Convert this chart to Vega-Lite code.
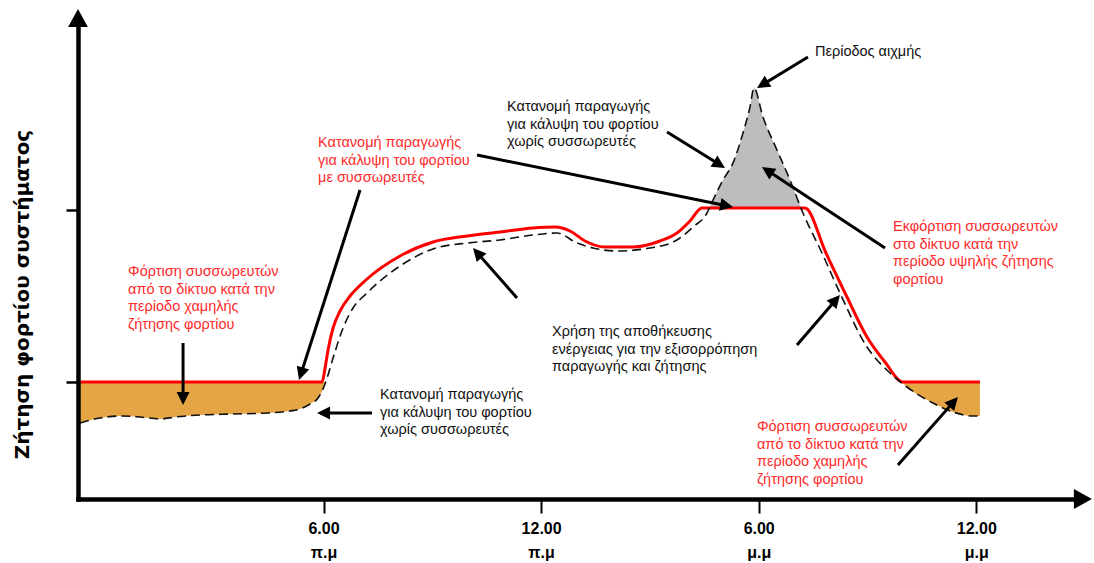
{
  "$schema": "https://vega.github.io/schema/vega-lite/v6.json",
  "width": 1002,
  "height": 479,
  "autosize": {"type": "none"},
  "padding": {"left": 78, "top": 20, "right": 14, "bottom": 64},
  "background": "white",
  "config": {"view": {"stroke": null}, "axis": {"grid": false}},
  "datasets": {
    "withStorage": [
      {"h": -0.713, "v": 117}, {"h": 5.960, "v": 117}, {"h": 6.043, "v": 131}, {"h": 6.125, "v": 149},
      {"h": 6.263, "v": 171}, {"h": 6.456, "v": 188}, {"h": 6.732, "v": 203}, {"h": 7.200, "v": 220},
      {"h": 8.110, "v": 243}, {"h": 9.020, "v": 257}, {"h": 9.958, "v": 263}, {"h": 10.867, "v": 267},
      {"h": 11.777, "v": 271}, {"h": 12.384, "v": 272}, {"h": 12.797, "v": 268}, {"h": 13.211, "v": 258},
      {"h": 13.762, "v": 252}, {"h": 14.534, "v": 252}, {"h": 15.279, "v": 258}, {"h": 15.747, "v": 266},
      {"h": 16.106, "v": 278}, {"h": 16.436, "v": 291}, {"h": 19.276, "v": 291}, {"h": 19.855, "v": 246},
      {"h": 20.434, "v": 202}, {"h": 20.986, "v": 162}, {"h": 21.482, "v": 137}, {"h": 21.978, "v": 117},
      {"h": 24.101, "v": 117}
    ],
    "withoutStorage": [
      {"h": -0.713, "v": 76}, {"h": -0.161, "v": 81}, {"h": 0.390, "v": 83}, {"h": 0.942, "v": 82},
      {"h": 1.493, "v": 80}, {"h": 1.906, "v": 82}, {"h": 2.596, "v": 84}, {"h": 3.506, "v": 85},
      {"h": 4.443, "v": 86}, {"h": 5.077, "v": 88}, {"h": 5.353, "v": 90}, {"h": 5.629, "v": 95},
      {"h": 5.850, "v": 101}, {"h": 5.987, "v": 110}, {"h": 6.098, "v": 121}, {"h": 6.263, "v": 141},
      {"h": 6.539, "v": 171}, {"h": 6.814, "v": 191}, {"h": 7.200, "v": 206}, {"h": 8.110, "v": 233},
      {"h": 9.020, "v": 250}, {"h": 9.958, "v": 256}, {"h": 10.867, "v": 259}, {"h": 11.777, "v": 264},
      {"h": 12.439, "v": 266}, {"h": 12.990, "v": 256}, {"h": 13.431, "v": 251}, {"h": 14.093, "v": 248},
      {"h": 15.003, "v": 251}, {"h": 15.747, "v": 259}, {"h": 16.188, "v": 272}, {"h": 16.574, "v": 286},
      {"h": 16.740, "v": 299}, {"h": 17.016, "v": 319}, {"h": 17.291, "v": 336}, {"h": 17.567, "v": 366},
      {"h": 17.760, "v": 392}, {"h": 17.870, "v": 411}, {"h": 18.118, "v": 382}, {"h": 18.504, "v": 349},
      {"h": 18.863, "v": 319}, {"h": 19.221, "v": 286}, {"h": 19.745, "v": 246}, {"h": 20.241, "v": 206},
      {"h": 20.986, "v": 152}, {"h": 21.620, "v": 126}, {"h": 22.088, "v": 112}, {"h": 22.805, "v": 96},
      {"h": 23.357, "v": 87}, {"h": 23.908, "v": 83}, {"h": 24.101, "v": 83}
    ],
    "charging": [
      {"period": "night", "h": -0.713, "v": 76, "base": 117}, {"period": "night", "h": -0.161, "v": 81, "base": 117},
      {"period": "night", "h": 0.390, "v": 83, "base": 117}, {"period": "night", "h": 0.942, "v": 82, "base": 117},
      {"period": "night", "h": 1.493, "v": 80, "base": 117}, {"period": "night", "h": 1.906, "v": 82, "base": 117},
      {"period": "night", "h": 2.596, "v": 84, "base": 117}, {"period": "night", "h": 3.506, "v": 85, "base": 117},
      {"period": "night", "h": 4.443, "v": 86, "base": 117}, {"period": "night", "h": 5.077, "v": 88, "base": 117},
      {"period": "night", "h": 5.353, "v": 90, "base": 117}, {"period": "night", "h": 5.629, "v": 95, "base": 117},
      {"period": "night", "h": 5.850, "v": 101, "base": 117}, {"period": "night", "h": 5.987, "v": 110, "base": 117},
      {"period": "night", "h": 6.060, "v": 117, "base": 117},
      {"period": "late", "h": 21.940, "v": 117, "base": 117}, {"period": "late", "h": 22.088, "v": 112, "base": 117},
      {"period": "late", "h": 22.805, "v": 96, "base": 117}, {"period": "late", "h": 23.357, "v": 87, "base": 117},
      {"period": "late", "h": 23.908, "v": 83, "base": 117}, {"period": "late", "h": 24.101, "v": 83, "base": 117}
    ],
    "peakShaving": [
      {"h": 16.640, "v": 291, "base": 291}, {"h": 16.740, "v": 299, "base": 291}, {"h": 17.016, "v": 319, "base": 291},
      {"h": 17.291, "v": 336, "base": 291}, {"h": 17.567, "v": 366, "base": 291}, {"h": 17.760, "v": 392, "base": 291},
      {"h": 17.870, "v": 411, "base": 291}, {"h": 18.118, "v": 382, "base": 291}, {"h": 18.504, "v": 349, "base": 291},
      {"h": 18.863, "v": 319, "base": 291}, {"h": 19.170, "v": 291, "base": 291}
    ],
    "arrows": [
      {"h": 19.359, "v": 442, "h2": 17.953, "v2": 411},
      {"h": 15.472, "v": 367, "h2": 17.071, "v2": 331},
      {"h": 10.233, "v": 344, "h2": 17.291, "v2": 292},
      {"h": 7.007, "v": 309, "h2": 5.325, "v2": 119},
      {"h": 2.127, "v": 156, "h2": 2.127, "v2": 94},
      {"h": 7.338, "v": 86, "h2": 5.822, "v2": 86},
      {"h": 11.336, "v": 201, "h2": 10.123, "v2": 251},
      {"h": 19.056, "v": 154, "h2": 20.241, "v2": 204},
      {"h": 21.483, "v": 251, "h2": 18.091, "v2": 332},
      {"h": 21.840, "v": 34, "h2": 23.494, "v2": 102}
    ],
    "blackNotes": [
      {"h": 19.552, "v": 447, "label": "Περίοδος αιχμής"},
      {"h": 11.060, "v": 392, "label": "Κατανομή παραγωγής\nγια κάλυψη του φορτίου\nχωρίς συσσωρευτές"},
      {"h": 7.559, "v": 104, "label": "Κατανομή παραγωγής\nγια κάλυψη του φορτίου\nχωρίς συσσωρευτές"},
      {"h": 12.301, "v": 167, "label": "Χρήση της αποθήκευσης\nενέργειας για την εξισορρόπηση\nπαραγωγής και ζήτησης"}
    ],
    "redNotes": [
      {"h": 5.849, "v": 356, "label": "Κατανομή παραγωγής\nγια κάλυψη του φορτίου\nμε συσσωρευτές"},
      {"h": 0.611, "v": 227, "label": "Φόρτιση συσσωρευτών\nαπό το δίκτυο κατά την\nπερίοδο χαμηλής\nζήτησης φορτίου"},
      {"h": 21.703, "v": 272, "label": "Εκφόρτιση συσσωρευτών\nστο δίκτυο κατά την\nπερίοδο υψηλής ζήτησης\nφορτίου"},
      {"h": 17.953, "v": 72, "label": "Φόρτιση συσσωρευτών\nαπό το δίκτυο κατά την\nπερίοδο χαμηλής\nζήτησης φορτίου"}
    ],
    "axisEnds": [
      {"axis": "y", "h": -0.77, "v": 481},
      {"axis": "x", "h": 26.94, "v": 0}
    ]
  },
  "encoding": {
    "x": {
      "field": "h", "type": "quantitative",
      "scale": {"domain": [-0.77, 26.86], "nice": false, "zero": false},
      "axis": {
        "values": [6, 12, 18, 24], "title": null, "grid": false,
        "domain": true, "domainColor": "#000", "domainWidth": 4.5, "domainCap": "square",
        "ticks": true, "tickColor": "#000", "tickWidth": 2, "tickSize": 14,
        "labelExpr": "datum.value == 6 ? ['6.00', 'π.μ'] : datum.value == 12 ? ['12.00', 'π.μ'] : datum.value == 18 ? ['6.00', 'μ.μ'] : ['12.00', 'μ.μ']",
        "labelFont": "Liberation Sans", "labelFontSize": 16, "labelFontWeight": "bold", "labelColor": "#000",
        "labelLineHeight": 24, "labelPadding": 7, "labelBaseline": "top", "labelFlush": false, "labelOverlap": false,
        "zindex": 1
      }
    },
    "y": {
      "field": "v", "type": "quantitative",
      "scale": {"domain": [0, 479], "nice": false, "zero": false},
      "axis": {
        "values": [117, 289], "labels": false, "grid": false,
        "title": "Ζήτηση φορτίου συστήματος", "titleFont": "DejaVu Sans", "titleFontSize": 20,
        "titleFontWeight": "bold", "titleColor": "#000", "titleAngle": 270, "titleX": -56, "titleY": 274,
        "titleAlign": "center", "titleBaseline": "middle",
        "domain": true, "domainColor": "#000", "domainWidth": 4.5, "domainCap": "square",
        "ticks": true, "tickColor": "#000", "tickWidth": 2.5, "tickSize": 12,
        "zindex": 1
      }
    }
  },
  "layer": [
    {
      "data": {"name": "peakShaving"},
      "mark": {"type": "area", "color": "#BDBDBD", "opacity": 1, "interpolate": "monotone"},
      "encoding": {"y2": {"field": "base"}}
    },
    {
      "data": {"name": "charging"},
      "mark": {"type": "area", "color": "#E5A545", "opacity": 1, "interpolate": "monotone"},
      "encoding": {"y2": {"field": "base"}, "detail": {"field": "period"}}
    },
    {
      "data": {"name": "withStorage"},
      "mark": {"type": "line", "color": "#FF0000", "strokeWidth": 3, "interpolate": "monotone"}
    },
    {
      "data": {"name": "withoutStorage"},
      "mark": {"type": "line", "color": "#111111", "strokeWidth": 1.6, "strokeDash": [9, 5], "interpolate": "monotone"}
    },
    {
      "data": {"name": "arrows"},
      "transform": [
        {"calculate": "(datum.h2 - datum.h) * 36.265", "as": "dxp"},
        {"calculate": "datum.v2 - datum.v", "as": "dyp"},
        {"calculate": "sqrt(datum.dxp * datum.dxp + datum.dyp * datum.dyp)", "as": "len"},
        {"calculate": "datum.h2 - 6.5 * datum.dxp / datum.len / 36.265", "as": "hx"},
        {"calculate": "datum.v2 - 6.5 * datum.dyp / datum.len", "as": "vy"}
      ],
      "mark": {"type": "rule", "color": "#000", "strokeWidth": 3},
      "encoding": {"x2": {"field": "hx"}, "y2": {"field": "vy"}}
    },
    {
      "data": {"name": "arrows"},
      "transform": [
        {"calculate": "(datum.h2 - datum.h) * 36.265", "as": "dxp"},
        {"calculate": "datum.v2 - datum.v", "as": "dyp"},
        {"calculate": "sqrt(datum.dxp * datum.dxp + datum.dyp * datum.dyp)", "as": "len"},
        {"calculate": "atan2(datum.dxp, datum.dyp) * 180 / PI", "as": "ang"},
        {"calculate": "datum.h2 - 6.5 * datum.dxp / datum.len / 36.265", "as": "h"},
        {"calculate": "datum.v2 - 6.5 * datum.dyp / datum.len", "as": "v"}
      ],
      "mark": {"type": "point", "shape": "M0,-1L1,1L-1,1Z", "filled": true, "color": "#000", "opacity": 1, "size": 169},
      "encoding": {"angle": {"field": "ang", "type": "quantitative", "scale": null}}
    },
    {
      "data": {"name": "axisEnds"},
      "transform": [{"filter": "datum.axis == 'y'"}],
      "mark": {"type": "point", "shape": "M0,-1L1.1,1L-1.1,1Z", "filled": true, "color": "#000", "opacity": 1, "size": 324}
    },
    {
      "data": {"name": "axisEnds"},
      "transform": [{"filter": "datum.axis == 'x'"}],
      "mark": {"type": "point", "shape": "M0,-1L1.1,1L-1.1,1Z", "filled": true, "color": "#000", "opacity": 1, "size": 324, "angle": 90}
    },
    {
      "data": {"name": "blackNotes"},
      "mark": {"type": "text", "align": "left", "baseline": "middle", "font": "Liberation Sans", "fontSize": 14.5, "lineHeight": 17.5, "lineBreak": "\n", "color": "#111111"},
      "encoding": {"text": {"field": "label"}}
    },
    {
      "data": {"name": "redNotes"},
      "mark": {"type": "text", "align": "left", "baseline": "middle", "font": "Liberation Sans", "fontSize": 14.5, "lineHeight": 17.5, "lineBreak": "\n", "color": "#FF2A2A"},
      "encoding": {"text": {"field": "label"}}
    }
  ]
}
